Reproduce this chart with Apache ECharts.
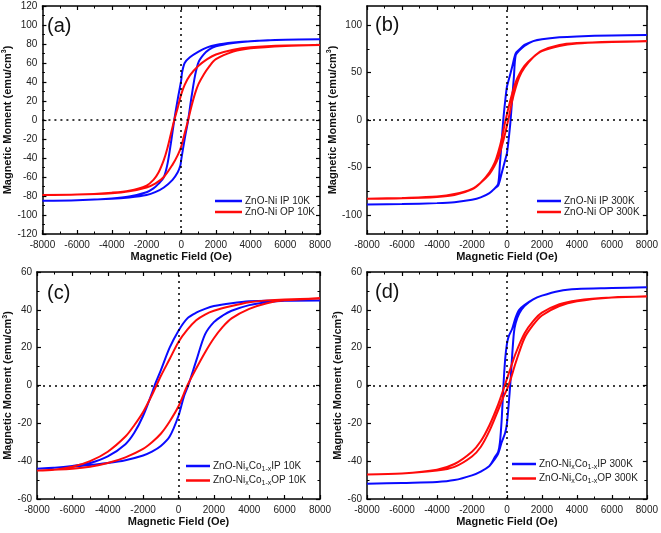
<!DOCTYPE html>
<html><head><meta charset="utf-8">
<script src="https://cdn.jsdelivr.net/npm/echarts@6/dist/echarts.min.js"></script>
<style>html,body{margin:0;padding:0;background:#fff}#c{width:661px;height:533px}</style>
</head><body><div id="c"></div>
<script>
// x tick labels (Oe)
const fieldTicks = [-8000,-6000,-4000,-2000,0,2000,4000,6000,8000];
const bTicks = [-100,-50,0,50,100];
const bMinorTicks = [-75,-25,25,75];

// Panel (a) ZnO-Ni 10K : closed loops [field, moment]
const aIP = [[8000,85],[6000,84.5],[4000,83],[3000,81.5],[2000,79],[1500,76.5],[1000,72],[500,66],[200,60],[50,50],[0,42],[-200,22],[-400,0],[-600,-25],[-800,-47],[-1000,-60],[-1300,-67],[-1600,-72],[-2000,-76],[-3000,-80.5],[-4000,-82.5],[-6000,-84.5],[-8000,-85],
  [-6000,-84.5],[-4000,-83],[-3000,-81.5],[-2000,-79],[-1500,-76],[-1000,-71],[-500,-63],[-200,-55],[-50,-48],[0,-42],[200,-20],[400,0],[600,25],[800,47],[1000,61],[1300,69],[1600,74],[2000,77.5],[3000,81],[4000,83],[6000,84.5],[8000,85]];
const aOP = [[8000,79],[6000,78.5],[4000,76.5],[3000,74],[2000,69],[1500,64],[1000,57],[500,47],[200,37],[0,27],[-200,13],[-400,0],[-600,-15],[-800,-30],[-1000,-42],[-1300,-55],[-1600,-63],[-2000,-69],[-3000,-74.5],[-4000,-76.5],[-6000,-78.5],[-8000,-79],
  [-6000,-78.5],[-4000,-77],[-3000,-75],[-2000,-71],[-1500,-67],[-1000,-60],[-500,-47],[-200,-37],[0,-28],[200,-14],[400,0],[600,15],[800,28],[1000,38],[1300,48],[1600,56],[2000,64],[3000,72],[4000,75.5],[6000,78],[8000,79]];

// Panel (b) ZnO-Ni 300K
const bIP = [[8000,89.5],[6000,89],[4000,88],[3000,87],[2000,85],[1500,83],[1000,79],[700,74],[500,70],[300,56],[100,42],[0,35],[-100,20],[-200,2],[-300,-22],[-400,-46],[-500,-67],[-700,-72],[-1000,-77],[-1500,-81.5],[-2000,-84],[-3000,-86.5],[-4000,-87.5],[-6000,-88.5],[-8000,-89],
  [-6000,-88.5],[-4000,-87.5],[-3000,-86.5],[-2000,-84],[-1500,-81.5],[-1000,-77],[-700,-72],[-500,-69],[-300,-56],[-100,-42],[0,-35],[100,-20],[200,-2],[300,22],[400,46],[500,68],[700,73],[1000,78],[1500,83],[2000,85],[3000,87],[4000,88],[6000,89],[8000,89.5]];
const bOP = [[8000,83],[6000,82],[4000,80.5],[3000,78],[2000,72.5],[1500,66],[1000,57],[700,48],[500,40],[300,28],[100,14],[0,6],[-100,-2],[-300,-20],[-500,-34],[-700,-45],[-1000,-55],[-1500,-66],[-2000,-73],[-3000,-79],[-4000,-81],[-6000,-82.5],[-8000,-83],
  [-6000,-82],[-4000,-80.5],[-3000,-78],[-2000,-72.5],[-1500,-66],[-1000,-57],[-700,-48],[-500,-40],[-300,-28],[-100,-14],[0,-6],[100,2],[300,20],[500,34],[700,45],[1000,55],[1500,66],[2000,73],[3000,79],[4000,81],[6000,82.5],[8000,83]];

// Panel (c) ZnO-NixCo1-x 10K
const cIP = [[8000,45],[6000,45],[4000,44.5],[3000,43.5],[2000,42],[1500,40.5],[1000,38.5],[500,35.5],[0,29],[-500,20],[-1000,8],[-1350,0],[-1500,-4],[-2000,-16],[-2500,-25],[-3000,-31],[-4000,-37.5],[-5000,-41],[-6000,-42.5],[-7000,-43.5],[-8000,-44],
  [-6000,-43],[-5000,-42],[-4000,-41],[-3000,-39.5],[-2000,-37],[-1500,-35],[-1000,-32],[-500,-27],[0,-16],[300,-6],[550,0],[1000,13],[1500,27],[2000,33.5],[2500,37],[3000,39.5],[4000,42.5],[5000,44],[6000,44.8],[8000,45]];
const cOP = [[8000,46],[6000,45.5],[5000,45],[4000,44],[3000,42],[2000,39.5],[1500,37.5],[1000,34.5],[500,29.5],[0,23],[-500,14],[-1000,5],[-1250,0],[-1500,-5],[-2000,-14],[-2500,-21],[-3000,-27],[-4000,-35],[-5000,-40],[-6000,-43],[-7000,-44.5],[-8000,-45],
  [-6000,-44],[-5000,-43],[-4000,-41],[-3000,-38],[-2000,-33.5],[-1500,-30],[-1000,-25.5],[-500,-19],[0,-11],[500,0],[1000,9],[1500,17.5],[2000,25],[2500,31],[3000,35.5],[4000,40.5],[5000,43.5],[6000,45],[8000,46]];

// Panel (d) ZnO-NixCo1-x 300K
const dIP = [[8000,52],[6000,51.5],[4000,51],[3000,50],[2000,47.5],[1500,45.5],[1000,42.5],[700,40],[500,36],[300,30],[100,26],[0,22],[-100,14],[-200,0],[-300,-18],[-400,-30],[-500,-35],[-700,-38],[-1000,-42.5],[-1500,-45.5],[-2000,-47.5],[-3000,-50],[-4000,-51],[-6000,-51.5],[-8000,-52],
  [-6000,-51.5],[-4000,-51],[-3000,-50],[-2000,-47.5],[-1500,-45.5],[-1000,-42.5],[-700,-39],[-500,-36],[-300,-30],[-100,-25],[0,-20],[100,-10],[200,2],[300,16],[400,28],[500,33],[700,38],[1000,42],[1500,45.5],[2000,47.5],[3000,50],[4000,51],[6000,51.5],[8000,52]];
const dOP = [[8000,47],[6000,46.5],[4000,45],[3000,43],[2000,38.5],[1500,34],[1000,27.5],[500,17],[200,9],[0,3.5],[-200,-2],[-500,-10],[-1000,-21],[-1500,-29.5],[-2000,-35],[-3000,-41.5],[-4000,-44.5],[-6000,-46.5],[-8000,-47],
  [-6000,-46.5],[-4000,-45],[-3000,-43],[-2000,-37.5],[-1500,-32.5],[-1000,-24],[-500,-13],[-200,-6],[0,-2],[200,3],[500,12],[1000,25],[1500,32],[2000,37],[3000,42],[4000,44.5],[6000,46.5],[8000,47]];

const names = {
  a: ['ZnO-Ni IP 10K','ZnO-Ni OP 10K'],
  b: ['ZnO-Ni IP 300K','ZnO-Ni OP 300K'],
  c: ['ZnO-NixCo1-x IP 10K','ZnO-NixCo1-x OP 10K'],
  d: ['ZnO-NixCo1-x IP 300K','ZnO-NixCo1-x OP 300K']
};
const panelLabels = ['(a)','(b)','(c)','(d)'];

const FONT = 'Arial, "Liberation Sans", sans-serif';
const BLUE = '#0a0aff', RED = '#ff0a0a';

const grids = [
  {left:37, top:6, width:283, height:228},
  {left:367, top:6, width:282, height:228},
  {left:37, top:272, width:283, height:227},
  {left:367, top:272, width:282, height:227}
];

const xAxes = [], yAxes = [], series = [];
const axisLine = {show:true, onZero:false, lineStyle:{color:'#000', width:1.5}};
const tickStyle = {show:true, inside:true, length:4, lineStyle:{color:'#000', width:1.2}};
const minorStyle = {show:true, splitNumber:2, length:2.5, lineStyle:{color:'#000', width:1}};
const labelStyle = {color:'#222', fontSize:10, fontFamily:FONT, formatter: v => String(v)};

grids.forEach((g, i) => {
  xAxes.push({gridIndex:i, type:'value', min:-8000, max:8000, interval:2000, position:'bottom',
    axisLine, axisTick:tickStyle, minorTick:minorStyle, splitLine:{show:false},
    axisLabel:{...labelStyle, margin:6},
    name:'Magnetic Field (Oe)', nameLocation:'middle', nameGap:17,
    nameTextStyle:{fontSize:11, fontWeight:'bold', color:'#111', fontFamily:FONT}});
  xAxes.push({gridIndex:i, type:'value', min:-8000, max:8000, interval:2000, position:'top',
    axisLine, axisTick:tickStyle, minorTick:minorStyle, splitLine:{show:false}, axisLabel:{show:false}});
  const yName = 'Magnetic Moment (emu/cm{p|3})';
  const yNameStyle = {fontSize:11, fontWeight:'bold', color:'#111', fontFamily:FONT,
      rich:{p:{fontSize:7, fontWeight:'bold', color:'#111', fontFamily:FONT, verticalAlign:'top', padding:[0,0,7,0]}}};
  let ymin, ymax;
  if (i <= 1) { ymin=-120; ymax=120; }
  else { ymin=-60; ymax=60; }
  if (i === 1) {
    yAxes.push({gridIndex:i, type:'value', min:ymin, max:ymax, position:'left',
      axisLine, axisTick:{...tickStyle, customValues:bTicks}, splitLine:{show:false},
      axisLabel:{...labelStyle, margin:5, customValues:bTicks},
      name:yName, nameLocation:'middle', nameGap:21, nameTextStyle:yNameStyle});
    yAxes.push({gridIndex:i, type:'value', min:ymin, max:ymax, position:'right',
      axisLine, axisTick:{...tickStyle, customValues:bTicks}, splitLine:{show:false}, axisLabel:{show:false, customValues:bTicks}});
    yAxes.push({gridIndex:i, type:'value', min:ymin, max:ymax, position:'left',
      axisLine:{show:false, onZero:false}, axisTick:{show:true, inside:true, length:2.5, customValues:bMinorTicks, lineStyle:{color:'#000', width:1}},
      splitLine:{show:false}, axisLabel:{show:false, customValues:bMinorTicks}});
    yAxes.push({gridIndex:i, type:'value', min:ymin, max:ymax, position:'right',
      axisLine:{show:false, onZero:false}, axisTick:{show:true, inside:true, length:2.5, customValues:bMinorTicks, lineStyle:{color:'#000', width:1}},
      splitLine:{show:false}, axisLabel:{show:false, customValues:bMinorTicks}});
  } else {
    yAxes.push({gridIndex:i, type:'value', min:ymin, max:ymax, interval:20, position:'left',
      axisLine, axisTick:tickStyle, minorTick:minorStyle, splitLine:{show:false},
      axisLabel:{...labelStyle, margin:5},
      name:yName, nameLocation:'middle', nameGap:i===0?25:21, nameTextStyle:yNameStyle});
    yAxes.push({gridIndex:i, type:'value', min:ymin, max:ymax, interval:20, position:'right',
      axisLine, axisTick:tickStyle, minorTick:minorStyle, splitLine:{show:false}, axisLabel:{show:false}});
  }
});

// y axis index for each grid's main axis
const yIdx = [0, 2, 6, 8];
const loops = [[aIP,aOP,names.a],[bIP,bOP,names.b],[cIP,cOP,names.c],[dIP,dOP,names.d]];
loops.forEach(([ip, op, nm], i) => {
  const common = {type:'line', xAxisIndex:i*2, yAxisIndex:yIdx[i], showSymbol:false, symbol:'none', smooth:0.3, animation:false};
  series.push({...common, name:nm[0], data:ip, lineStyle:{color:BLUE, width:2}, itemStyle:{color:BLUE}, z:3,
    markLine:{silent:true, symbol:'none', label:{show:false}, animation:false,
      lineStyle:{color:'#000', type:[2,4], width:1.5}, data:[{xAxis:0},{yAxis:0}]}});
  series.push({...common, name:nm[1], data:op, lineStyle:{color:RED, width:2}, itemStyle:{color:RED}, z:4});
});

const legendPos = [{left:215, top:196, w:27, gap:1},{left:537, top:196, w:24, gap:1},{left:186, top:461, w:24, gap:3},{left:512, top:459, w:24, gap:3}];
const legends = loops.map((l, i) => ({
  data:l[2], orient:'vertical', left:legendPos[i].left, top:legendPos[i].top, itemGap:legendPos[i].gap,
  icon:'rect', itemWidth:legendPos[i].w, itemHeight:2.5, padding:0,
  textStyle:{fontSize:10, color:'#222', fontFamily:FONT, padding:[0,0,0,-2],
    rich:{s:{fontSize:7, color:'#222', fontFamily:FONT, verticalAlign:'bottom', padding:[6,0,0,0]}}},
  formatter: n => n.replace('Nix','Ni{s|x}').replace('Co1-x ','Co{s|1-x}')
}));

const titlePos = [{left:47, top:16},{left:375, top:15},{left:47, top:283},{left:375, top:282}];
const titles = panelLabels.map((t, i) => ({text:t, left:titlePos[i].left, top:titlePos[i].top, padding:0,
  textStyle:{fontSize:20, fontWeight:'normal', color:'#111', fontFamily:FONT}}));

const chart = echarts.init(document.getElementById('c'), null, {renderer:'canvas'});
chart.setOption({
  animation:false, backgroundColor:'#fff',
  title:titles, legend:legends, grid:grids, xAxis:xAxes, yAxis:yAxes, series
});
</script></body></html>
